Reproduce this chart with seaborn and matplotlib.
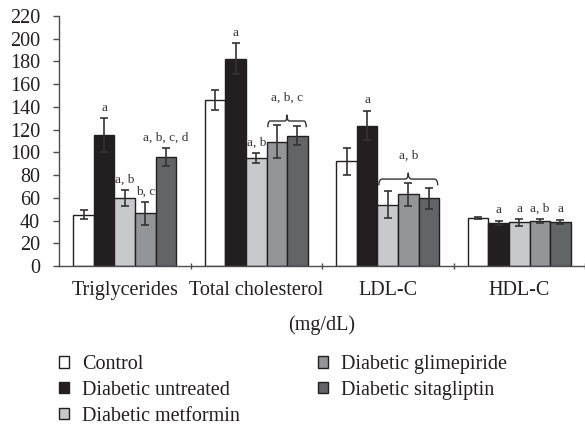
import numpy as np
import pandas as pd
import matplotlib
matplotlib.use("Agg")
import matplotlib.pyplot as plt
from matplotlib.path import Path
from matplotlib.patches import PathPatch
from matplotlib.container import BarContainer
import seaborn as sns

# ---- data ----
categories = ["Triglycerides", "Total cholesterol", "LDL-C", "HDL-C"]
groups = ["Control", "Diabetic untreated", "Diabetic metformin",
          "Diabetic glimepiride", "Diabetic sitagliptin"]

control = [45, 146, 92, 42.5]
control_err = [4, 9, 12, 1]
untreated = [115, 182.5, 123.5, 38]
untreated_err = [15, 13.5, 13, 2]
metformin = [60, 95, 54, 38.3]
metformin_err = [7, 4.3, 12, 3]
glimepiride = [46.4, 109.4, 63, 39.6]
glimepiride_err = [10, 14.7, 10, 2]
sitagliptin = [96, 114.7, 59.5, 38.7]
sitagliptin_err = [8, 8.5, 9, 2]

control_letters = ["", "", "", ""]
untreated_letters = ["a", "a", "a", "a"]
metformin_letters = ["a, b", "a, b", "", "a"]
glimepiride_letters = ["b, c", "", "", "a, b"]
sitagliptin_letters = ["a, b, c, d", "", "", "a"]

brace_categories = ["Total cholesterol", "LDL-C"]
brace_groups = [[3, 4], [2, 3, 4]]
brace_labels = ["a, b, c", "a, b"]

yticks = list(range(0, 221, 20))
colors = ["#ffffff", "#231f20", "#c8c9cb", "#939598", "#636466"]

values = [control, untreated, metformin, glimepiride, sitagliptin]
errors = [control_err, untreated_err, metformin_err, glimepiride_err, sitagliptin_err]
letters = [control_letters, untreated_letters, metformin_letters,
           glimepiride_letters, sitagliptin_letters]

df = pd.DataFrame({
    "category": [c for g in groups for c in categories],
    "group": [g for g in groups for c in categories],
    "value": [v for vals in values for v in vals],
})

# ---- style ----
sns.set_style("ticks")
plt.rcParams["font.family"] = ["Liberation Serif", "DejaVu Serif"]
dark = "#231f20"
axis_col = "#4d4d4f"

fig = plt.figure(figsize=(5.85, 4.29), dpi=100)
ax = fig.add_axes([59 / 585, 1 - 266 / 429, 1 - 59 / 585, (266 - 16) / 429])

sns.barplot(data=df, x="category", y="value", hue="group", order=categories,
            hue_order=groups, palette=colors, width=0.78, edgecolor=dark,
            linewidth=1.0, errorbar=None, ax=ax, saturation=1)

handles, labels = ax.get_legend_handles_labels()
if ax.get_legend() is not None:
    ax.get_legend().remove()

bar_conts = [c for c in ax.containers if isinstance(c, BarContainer)]

# error bars and letters
for gi, cont in enumerate(bar_conts):
    for ci, patch in enumerate(cont.patches):
        xc = patch.get_x() + patch.get_width() / 2
        h = patch.get_height()
        e = errors[gi][ci]
        ax.errorbar(xc, h, yerr=e, fmt="none", ecolor="#333333",
                    elinewidth=1.2, capsize=2.6, capthick=1.2, zorder=5)
        txt = letters[gi][ci]
        if txt:
            ax.annotate(txt, xy=(xc, h + e), xytext=(0, 7.5),
                        textcoords="offset points", ha="center", va="center",
                        fontsize=9.5, color="#333333")


def draw_brace(ax, x0, x1, y, hh, lw=1.0):
    xm = (x0 + x1) / 2
    r = (x1 - x0) * 0.06
    verts = [(x0, y - hh), (x0, y), (x0 + r, y),
             (xm - r, y),
             (xm, y), (xm, y + hh),
             (xm, y), (xm + r, y),
             (x1 - r, y),
             (x1, y), (x1, y - hh)]
    codes = [Path.MOVETO, Path.CURVE3, Path.CURVE3,
             Path.LINETO,
             Path.CURVE3, Path.CURVE3,
             Path.CURVE3, Path.CURVE3,
             Path.LINETO,
             Path.CURVE3, Path.CURVE3]
    ax.add_patch(PathPatch(Path(verts, codes), fill=False, lw=lw,
                           edgecolor="#333333", zorder=6))


for bc, bg, bl in zip(brace_categories, brace_groups, brace_labels):
    ci = categories.index(bc)
    pats = [bar_conts[g].patches[ci] for g in bg]
    x0 = pats[0].get_x() + 0.01
    x1 = pats[-1].get_x() + pats[-1].get_width() - 0.01
    top = max(values[g][ci] + errors[g][ci] for g in bg)
    yb = top + 3.5
    draw_brace(ax, x0, x1, yb, 5.5)
    ax.annotate(bl, xy=((x0 + x1) / 2, yb + 5.5), xytext=(0, 12),
                textcoords="offset points", ha="center", va="center",
                fontsize=9.5, color="#333333")

# axes styling
ax.set_xlim(-0.5, len(categories) - 0.5)
ax.set_ylim(0, 220)
ax.set_yticks(yticks)
ax.set_yticklabels([str(t) for t in yticks])
sns.despine(ax=ax, top=True, right=True)
for s in ["left", "bottom"]:
    ax.spines[s].set_color(axis_col)
    ax.spines[s].set_linewidth(1.0)
ax.tick_params(axis="y", length=4, width=1, color=axis_col, pad=9.5,
               labelsize=14.5, labelcolor="#231f20")
ax.set_xticks(range(len(categories)))
ax.set_xticklabels(categories)
ax.tick_params(axis="x", which="major", length=0, pad=11,
               labelsize=14.5, labelcolor="#231f20")
ax.set_xticks(np.arange(0.5, len(categories), 1.0), minor=True)
ax.tick_params(axis="x", which="minor", direction="inout", length=5,
               width=1, color=axis_col)
ax.set_xlabel("(mg/dL)", fontsize=14.5, color="#231f20", labelpad=11)
ax.set_ylabel("")

fig.legend(handles, labels, loc="upper left",
           bbox_to_anchor=(59 / 585, 1 - 355 / 429), ncol=2, frameon=False,
           fontsize=14.5, handlelength=0.5, handleheight=0.5,
           handletextpad=0.65, columnspacing=3.85, labelspacing=0.34,
           borderpad=0, borderaxespad=0, labelcolor="#231f20")

fig.savefig("out.png", dpi=100)
